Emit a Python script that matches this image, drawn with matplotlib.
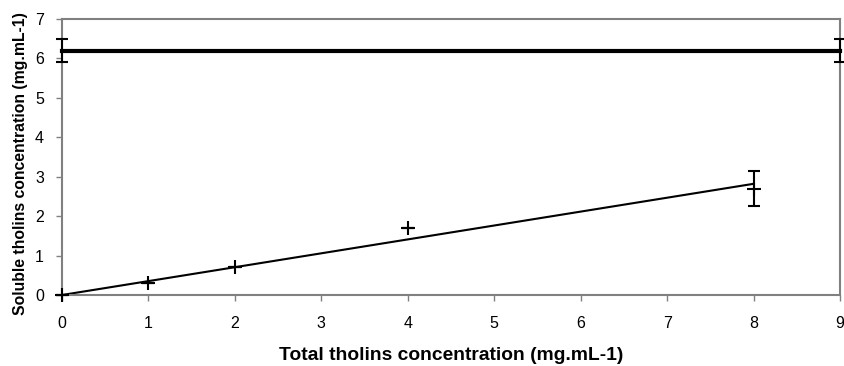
import matplotlib.pyplot as plt

plt.rcParams['font.family'] = ['Liberation Sans', 'DejaVu Sans']

# data
total_conc = [0, 1, 2, 4, 8]
soluble_conc = [0, 0.3, 0.7, 1.7, 2.7]
soluble_err = [0, 0, 0, 0, 0.45]

fit_x = [0, 8]
fit_y = [0, 2.82]

sat_x = [0, 9]
sat_y = [6.2, 6.2]
sat_err = [0.29, 0.29]

fig = plt.figure(figsize=(8.45, 3.66), dpi=100)
ax = fig.add_axes([62 / 845, 1 - 295 / 366, 778 / 845, 276 / 366])

# saturation level
ax.errorbar(sat_x, sat_y, yerr=sat_err, color='black', lw=3, elinewidth=1.5,
            capsize=4, capthick=1.5, clip_on=False, zorder=3)

# linear fit
ax.plot(fit_x, fit_y, color='black', lw=1.5)

# measurements
ax.errorbar(total_conc, soluble_conc, yerr=soluble_err, fmt='+', color='black',
            ms=10, mew=1.5, elinewidth=1.5, capsize=4, capthick=1.5,
            clip_on=False, zorder=4)

ax.set_xlim(0, 9)
ax.set_ylim(0, 7)
ax.set_xticks(range(0, 10))
ax.set_yticks(range(0, 8))

for s in ax.spines.values():
    s.set_color('#808080')
    s.set_linewidth(1.5)
ax.tick_params(direction='out', length=4, width=1, color='#808080',
               labelsize=11.5)
ax.tick_params(axis='x', pad=11)
ax.tick_params(axis='y', pad=9)

ax.set_xlabel('Total tholins concentration (mg.mL-1)', fontsize=13.9,
              fontweight='bold')
ax.set_ylabel('Soluble tholins concentration (mg.mL-1)', fontsize=11.3,
              fontweight='bold')
ax.xaxis.set_label_coords(0.5, -0.19)
ax.yaxis.set_label_coords(-0.044, 0.475)

fig.savefig('out.png', dpi=100)
